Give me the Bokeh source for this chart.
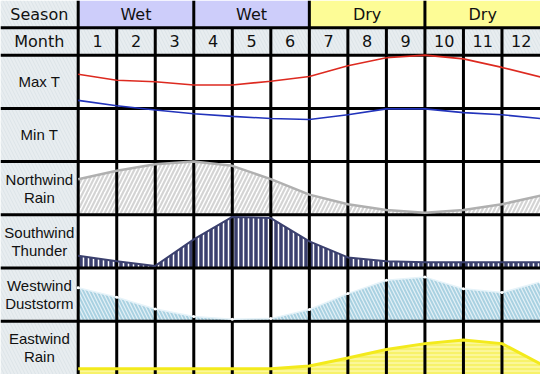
from bokeh.plotting import figure
from bokeh.models import Range1d
from bokeh.core.properties import value
from bokeh.embed import file_html
from bokeh.resources import INLINE

# ---------------- data ----------------
months = ["1", "2", "3", "4", "5", "6", "7", "8", "9", "10", "11", "12"]
seasons = ["Wet", "Wet", "Dry", "Dry"]          # one per quarter
row_labels = ["Max T", "Min T", "Northwind\nRain", "Southwind\nThunder",
              "Westwind\nDuststorm", "Eastwind\nRain"]
# relative level (0 = bottom of row, 100 = top of row) at month boundaries 0..12
max_t = [64, 53, 50, 44, 44, 51, 60, 80, 95, 100, 93, 77, 59]
min_t = [115, 105, 97, 90, 85, 81, 79, 88, 99, 99, 92, 88, 81]
northwind_rain = [67, 83, 95, 100, 92, 67, 38, 20, 9, 4, 9, 20, 36]
southwind_thunder = [23, 13, 4, 54, 96, 94, 50, 20, 13, 11, 11, 11, 11]
westwind_duststorm = [63, 45, 23, 9, 4, 5, 22, 52, 77, 83, 61, 54, 74]
eastwind_rain = [11, 11, 11, 11, 11, 11, 16, 31, 47, 58, 65, 58, 20]

# ---------------- layout ----------------
LW = 2.017      # label column width (in month units)
HH = 0.5135     # header row height (in data-row units)
W, H = 540, 374
TOP = 6 + 2 * HH

p = figure(width=W, height=H, output_backend="svg", toolbar_location=None,
           x_range=Range1d(-LW, 12), y_range=Range1d(0, TOP),
           x_axis_location=None, y_axis_location=None, min_border=0)
p.grid.visible = False
p.outline_line_color = None
p.background_fill_color = "white"

paper = dict(fill_color="#e8edf0", line_color=None, hatch_pattern="\\",
             hatch_color="#d3dbe0", hatch_scale=7, hatch_weight=0.6)

# label column (all rows incl. headers)
row_bottoms = [5 - i for i in range(6)]
p.quad(left=[-LW] * 8, right=[0] * 8,
       bottom=row_bottoms + [6, 6 + HH], top=[b + 1 for b in row_bottoms] + [6 + HH, TOP], **paper)
# month header cells
p.quad(left=[0], right=[12], bottom=[6], top=[6 + HH], **paper)
# season cells
season_colors = {"Wet": "#cdcdfa", "Dry": "#fdfc96"}
p.quad(left=[3 * i for i in range(4)], right=[3 * i + 3 for i in range(4)],
       bottom=[6 + HH] * 4, top=[TOP] * 4,
       fill_color=[season_colors[s] for s in seasons], line_color=None)

xs = list(range(13))

def ys(vals, row):
    base = 5 - row
    return [base + v / 100.0 for v in vals]

# filled series (under grid)
fills = [
    (northwind_rain, 2, dict(fill_color="white", hatch_pattern="/", hatch_color="#d4d4d4",
                             hatch_scale=8, hatch_weight=2.2)),
    (southwind_thunder, 3, dict(fill_color="#3b406e", hatch_pattern="|", hatch_color="white",
                                hatch_scale=5, hatch_weight=1.5)),
    (westwind_duststorm, 4, dict(fill_color="#a9d1e1", hatch_pattern="\\", hatch_color="#e4f1f7",
                                 hatch_scale=7, hatch_weight=1.2)),
    (eastwind_rain, 5, dict(fill_color="#f7f26a", hatch_pattern="-", hatch_color="#fffbc8",
                            hatch_scale=4, hatch_weight=1)),
]
for vals, row, style in fills:
    p.varea(x=xs, y1=[5 - row] * 13, y2=ys(vals, row), **style)

# grid lines
gx, gy = [], []
for i in range(12):
    gx.append([i, i]); gy.append([0, 6 + HH])
for i in range(4):
    gx.append([3 * i, 3 * i]); gy.append([6 + HH, TOP])
for yv in [1, 2, 3, 4, 5, 6, 6 + HH]:
    gx.append([-LW, 12]); gy.append([yv, yv])
p.multi_line(xs=gx, ys=gy, line_color="black", line_width=3)

# series lines (over grid)
p.line(xs, ys(max_t, 0), line_color="#dd2a20", line_width=1.6)
p.line(xs, ys(min_t, 1), line_color="#2233bb", line_width=1.6)
p.line(xs, ys(northwind_rain, 2), line_color="#b0b0b0", line_width=2.5)
p.line(xs, ys(southwind_thunder, 3), line_color="#3b406e", line_width=2)
p.line(xs, ys(westwind_duststorm, 4), line_color="#e6f3f9", line_width=1.5)
p.scatter(xs, ys(westwind_duststorm, 4), size=3, fill_color="white", line_color=None)
p.line(xs, ys(eastwind_rain, 5), line_color="#f3ea1c", line_width=3)

# header texts
hfont = value("DejaVu Sans")
p.text(x=[-LW / 2, -LW / 2], y=[6 + 1.5 * HH, 6 + 0.5 * HH], text=["Season", "Month"],
       text_font=hfont, text_font_size="16px", text_align="center", text_baseline="middle",
       text_color="#111111")
p.text(x=[3 * i + 1.5 for i in range(4)], y=[6 + 1.5 * HH] * 4, text=seasons,
       text_font=hfont, text_font_size="16px", text_align="center", text_baseline="middle",
       text_color="#111111")
p.text(x=[i + 0.5 for i in range(12)], y=[6 + 0.5 * HH] * 12, text=months,
       text_font=hfont, text_font_size="16px", text_align="center", text_baseline="middle",
       text_color="#111111")

# row labels
lx, ly, lt = [], [], []
for i, lab in enumerate(row_labels):
    parts = lab.split("\n")
    center = 5 - i + 0.5
    n = len(parts)
    for j, part in enumerate(parts):
        lx.append(-LW / 2)
        ly.append(center + (n - 1) * 0.17 - j * 0.34)
        lt.append(part)
p.text(x=lx, y=ly, text=lt, text_font=value("Liberation Sans"), text_font_size="15px",
       text_align="center", text_baseline="middle", text_color="#111111")

open("out.html", "w").write(file_html(p, INLINE))
